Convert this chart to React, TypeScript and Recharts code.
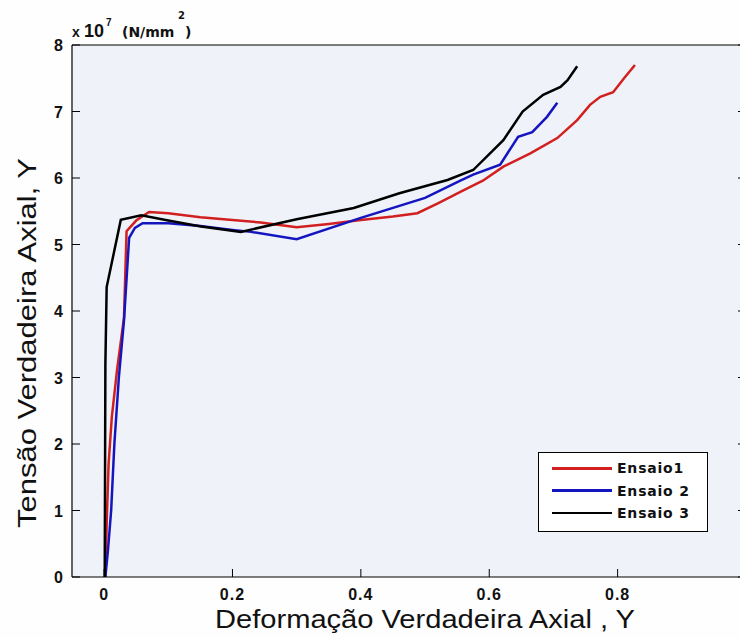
import React from 'react';
import { LineChart, Line, XAxis, YAxis, CartesianGrid, Legend } from 'recharts';

// ---- data (x = deformação, y = tensão ×10^7) ----
const ensaio1X = [0.002, 0.004, 0.007, 0.012, 0.02, 0.031, 0.035, 0.05, 0.07, 0.1, 0.15, 0.2, 0.244, 0.3, 0.35, 0.4, 0.45, 0.488, 0.52, 0.555, 0.59, 0.622, 0.664, 0.706, 0.737, 0.757, 0.773, 0.793, 0.81, 0.827];
const ensaio1Y = [0, 0.8, 1.7, 2.4, 3.1, 3.9, 5.2, 5.36, 5.49, 5.47, 5.41, 5.37, 5.33, 5.26, 5.31, 5.37, 5.42, 5.47, 5.62, 5.79, 5.96, 6.17, 6.37, 6.6, 6.87, 7.1, 7.22, 7.29, 7.5, 7.7];

const ensaio2X = [0.002, 0.006, 0.011, 0.016, 0.023, 0.031, 0.039, 0.048, 0.06, 0.1, 0.15, 0.2, 0.229, 0.3, 0.4, 0.5, 0.555, 0.575, 0.617, 0.645, 0.667, 0.69, 0.706];
const ensaio2Y = [0, 0.4, 1.0, 2.0, 3.0, 3.86, 5.1, 5.25, 5.32, 5.32, 5.28, 5.22, 5.19, 5.08, 5.4, 5.7, 5.96, 6.05, 6.2, 6.62, 6.69, 6.92, 7.13];

const ensaio3X = [0.001, 0.002, 0.004, 0.026, 0.058, 0.1, 0.151, 0.213, 0.3, 0.389, 0.46, 0.535, 0.575, 0.622, 0.652, 0.684, 0.711, 0.722, 0.737];
const ensaio3Y = [0, 3.2, 4.36, 5.37, 5.44, 5.36, 5.27, 5.19, 5.38, 5.55, 5.77, 5.97, 6.12, 6.57, 7.0, 7.25, 7.37, 7.47, 7.68];

const seriesNames = ['Ensaio1', 'Ensaio 2', 'Ensaio 3'];
const seriesColors = ['#d21f1f', '#1515c0', '#000000'];

const xTicks = [0, 0.2, 0.4, 0.6, 0.8, 1];
const xTickLabels = ['0', '0.2', '0.4', '0.6', '0.8', ''];
const yTicks = [0, 1, 2, 3, 4, 5, 6, 7, 8];
const yTickLabels = ['0', '1', '2', '3', '4', '5', '6', '7', '8'];

const xLabel = 'Deformação Verdadeira Axial , Y';
const yLabel = 'Tensão Verdadeira Axial, Y';

const toPoints = (xs: number[], ys: number[]) => xs.map((x, i) => ({ x, y: ys[i] }));
const seriesData = [toPoints(ensaio1X, ensaio1Y), toPoints(ensaio2X, ensaio2Y), toPoints(ensaio3X, ensaio3Y)];

const SANS = '"Liberation Sans", Arial, sans-serif';
const WIDE = '"DejaVu Sans", "Liberation Sans", sans-serif';

function BottomTick(props: any) {
  const { x, y, payload } = props;
  const idx = xTicks.indexOf(payload.value);
  const label = idx >= 0 ? xTickLabels[idx] : String(payload.value);
  return (
    <g>
      <line x1={x} y1={y} x2={x} y2={y - 8} stroke="#000" strokeWidth={1} />
      {label ? (
        <text x={x} y={y + 23} textAnchor="middle" fontFamily={SANS} fontWeight="bold" fontSize={16} letterSpacing={1} fill="#111">
          {label}
        </text>
      ) : null}
    </g>
  );
}

function TopTick(props: any) {
  const { x, y } = props;
  return <line x1={x} y1={y} x2={x} y2={y + 8} stroke="#000" strokeWidth={1} />;
}

function LeftTick(props: any) {
  const { x, y, payload } = props;
  const idx = yTicks.indexOf(payload.value);
  return (
    <g>
      <line x1={x} y1={y} x2={x + 8} y2={y} stroke="#000" strokeWidth={1} />
      <text x={x - 9} y={y + 6} textAnchor="end" fontFamily={SANS} fontWeight="bold" fontSize={16} fill="#111">
        {idx >= 0 ? yTickLabels[idx] : String(payload.value)}
      </text>
    </g>
  );
}

function RightTick(props: any) {
  const { x, y } = props;
  return <line x1={x} y1={y} x2={x - 8} y2={y} stroke="#000" strokeWidth={1} />;
}

function YLabelContent() {
  return (
    <g>
      <text
        transform="translate(36,343) rotate(-90)"
        textAnchor="middle"
        fontFamily={SANS}
        fontSize={25}
        textLength={370}
        lengthAdjust="spacingAndGlyphs"
        fill="#111"
      >
        {yLabel}
      </text>
      <text x={72} y={37} fontFamily={SANS} fontWeight="bold" fontSize={14} fill="#111">x</text>
      <text x={84} y={37} fontFamily={SANS} fontWeight="bold" fontSize={18} fill="#111">10</text>
      <text x={106} y={26} fontFamily={SANS} fontWeight="bold" fontSize={10} fill="#111">7</text>
      <text x={122} y={37} fontFamily={WIDE} fontWeight="bold" fontSize={14} fill="#111">(N/mm</text>
      <text x={178} y={19} fontFamily={WIDE} fontWeight="bold" fontSize={10} fill="#111">2</text>
      <text x={185} y={37} fontFamily={WIDE} fontWeight="bold" fontSize={14} fill="#111">)</text>
    </g>
  );
}

function XLabelContent() {
  return (
    <text
      x={425}
      y={628}
      textAnchor="middle"
      fontFamily={SANS}
      fontSize={25}
      textLength={420}
      lengthAdjust="spacingAndGlyphs"
      fill="#111"
    >
      {xLabel}
    </text>
  );
}

function LegendBox() {
  return (
    <div
      style={{
        width: 170,
        height: 80,
        boxSizing: 'border-box',
        border: '1px solid #000',
        background: '#ffffff',
        paddingTop: 4,
      }}
    >
      {seriesNames.map((name, i) => (
        <div key={name} style={{ display: 'flex', alignItems: 'center', height: 22.5 }}>
          <div
            style={{
              marginLeft: 13,
              width: 60,
              height: i === 2 ? 2 : 3,
              background: seriesColors[i],
            }}
          />
          <span
            style={{
              marginLeft: 5,
              fontFamily: WIDE,
              fontWeight: 'bold',
              fontSize: 14,
              letterSpacing: 0.8,
              color: '#111',
              lineHeight: '16px',
            }}
          >
            {name}
          </span>
        </div>
      ))}
    </div>
  );
}

export default function App() {
  return (
    <div
      style={{
        position: 'absolute',
        left: 0,
        top: 0,
        width: 740,
        height: 638,
        overflow: 'hidden',
        background: '#fefefe',
      }}
    >
      <LineChart width={760} height={638} margin={{ top: 44, right: 10, bottom: 21, left: 12 }}>
        <CartesianGrid horizontal={false} vertical={false} fill="#eff3f9" stroke="none" />
        <XAxis
          dataKey="x"
          type="number"
          domain={[-0.05, 1]}
          ticks={xTicks}
          allowDataOverflow
          height={40}
          tickSize={0}
          tickMargin={0}
          tick={<BottomTick />}
          tickLine={false}
          axisLine={{ stroke: '#000', strokeWidth: 1.2 }}
          label={<XLabelContent />}
        />
        <XAxis
          xAxisId="top"
          orientation="top"
          type="number"
          domain={[-0.05, 1]}
          ticks={xTicks}
          allowDataOverflow
          height={1}
          tickSize={0}
          tickMargin={0}
          tick={<TopTick />}
          tickLine={false}
          axisLine={{ stroke: '#000', strokeWidth: 1.2 }}
        />
        <YAxis
          type="number"
          domain={[0, 8]}
          ticks={yTicks}
          allowDataOverflow
          width={60}
          tickSize={0}
          tickMargin={0}
          tick={<LeftTick />}
          tickLine={false}
          axisLine={{ stroke: '#000', strokeWidth: 1.2 }}
          label={<YLabelContent />}
        />
        <YAxis
          yAxisId="right"
          orientation="right"
          type="number"
          domain={[0, 8]}
          ticks={yTicks}
          allowDataOverflow
          width={4}
          tickSize={0}
          tickMargin={0}
          tick={<RightTick />}
          tickLine={false}
          axisLine={{ stroke: '#000', strokeWidth: 1.2 }}
        />
        {seriesData.map((d, i) => (
          <Line
            key={seriesNames[i]}
            data={d}
            dataKey="y"
            name={seriesNames[i]}
            type="linear"
            stroke={seriesColors[i]}
            strokeWidth={2.5}
            dot={false}
            activeDot={false}
            isAnimationActive={false}
          />
        ))}
        <Legend
          layout="horizontal"
          verticalAlign="middle"
          align="center"
          wrapperStyle={{ left: 538, top: 452, width: 170, height: 80 }}
          content={() => <LegendBox />}
        />
      </LineChart>
    </div>
  );
}
